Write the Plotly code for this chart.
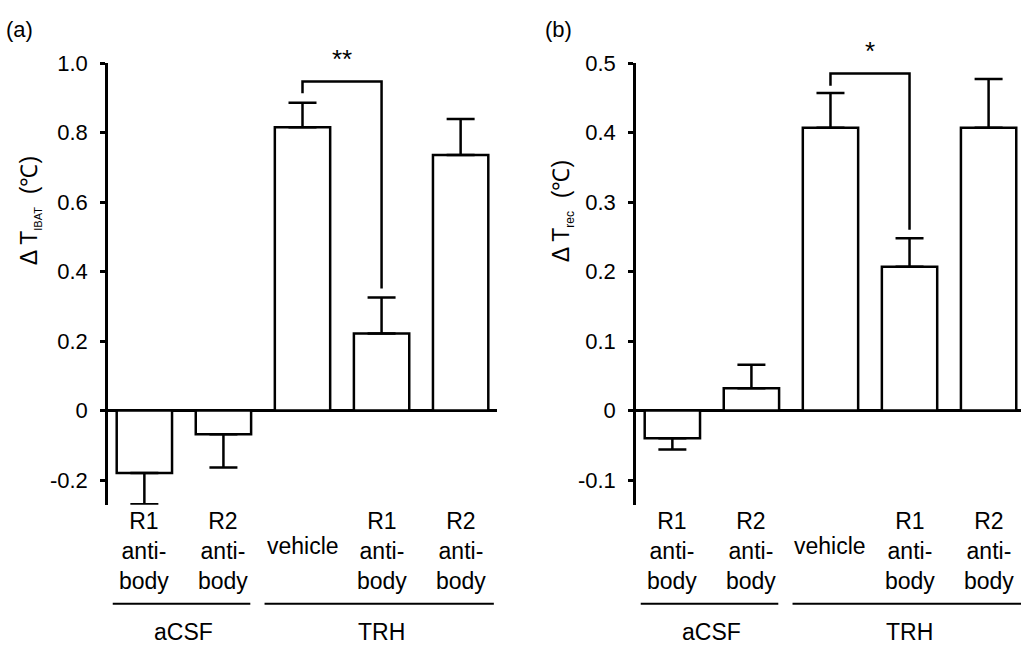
import plotly.graph_objects as go

# ---------------- data ----------------
cat_rows = ["R1<br>anti-<br>body", "R2<br>anti-<br>body", "vehicle", "R1<br>anti-<br>body", "R2<br>anti-<br>body"]
groups = ["aCSF", "TRH"]

# panel (a): delta T IBAT
a_mean = [-0.18, -0.068, 0.815, 0.222, 0.735]
a_sem = [0.09, 0.096, 0.071, 0.103, 0.104]
a_ticks = [-0.2, 0, 0.2, 0.4, 0.6, 0.8, 1.0]
a_ticktext = ["-0.2", "0", "0.2", "0.4", "0.6", "0.8", "1.0"]
a_yrange = [-0.271, 1.0]
a_bracket = [0.913, 0.947, 0.351]   # left end, top, right end
a_sig = "**"

# panel (b): delta T rec
b_mean = [-0.04, 0.032, 0.407, 0.207, 0.407]
b_sem = [0.016, 0.034, 0.050, 0.041, 0.070]
b_ticks = [-0.1, 0, 0.1, 0.2, 0.3, 0.4, 0.5]
b_ticktext = ["-0.1", "0", "0.1", "0.2", "0.3", "0.4", "0.5"]
b_yrange = [-0.1355, 0.5]
b_bracket = [0.4675, 0.485, 0.26]
b_sig = "*"

FONT = "Liberation Sans, Arial, Helvetica, sans-serif"
xs = list(range(len(cat_rows)))

fig = go.Figure()


def add_panel(mean, sem, xa, ya):
    plus = [s if m >= 0 else 0 for m, s in zip(mean, sem)]
    minus = [s if m < 0 else 0 for m, s in zip(mean, sem)]
    fig.add_trace(go.Bar(
        x=xs, y=mean, xaxis=xa, yaxis=ya, width=0.7,
        marker=dict(color="white", line=dict(color="black", width=2.5)),
        error_y=dict(type="data", symmetric=False, array=plus, arrayminus=minus,
                     color="black", thickness=2.5, width=14),
        cliponaxis=False, showlegend=False, hoverinfo="skip"))


add_panel(a_mean, a_sem, "x", "y")
add_panel(b_mean, b_sem, "x2", "y2")

ydom = [0.2229, 0.9195]
axis_common = dict(showgrid=False, zeroline=True, zerolinecolor="black", zerolinewidth=2.5,
                   showline=True, linecolor="black", linewidth=2.5,
                   ticks="outside", ticklen=5, tickwidth=2.5, tickcolor="black",
                   tickfont=dict(family=FONT, size=22, color="black"), ticklabelstandoff=8)
xcommon = dict(showgrid=False, zeroline=False, showline=False, showticklabels=False, ticks="")

fig.update_layout(
    width=1021, height=646, margin=dict(l=0, r=0, t=0, b=0),
    plot_bgcolor="white", paper_bgcolor="white",
    xaxis=dict(domain=[108 / 1021, 497 / 1021], range=[-0.46, 4.46], anchor="y", **xcommon),
    yaxis=dict(domain=ydom, range=a_yrange, tickvals=a_ticks, ticktext=a_ticktext, anchor="x", **axis_common),
    xaxis2=dict(domain=[636 / 1021, 1.0], range=[-0.46, 4.41], anchor="y2", **xcommon),
    yaxis2=dict(domain=ydom, range=b_yrange, tickvals=b_ticks, ticktext=b_ticktext, anchor="x2", **axis_common),
)

shapes = []
annotations = []
LBL = 23


def decorate(xref, yref, bracket, sig, ytitle, ylabel_x, letter, letter_x, line_right):
    # significance bracket
    l, top, r = bracket
    shapes.append(dict(type="path", xref=xref, yref=yref,
                       path=f"M 2,{l} L 2,{top} L 3,{top} L 3,{r}",
                       line=dict(color="black", width=2.5)))
    annotations.append(dict(x=2.5, y=top, xref=xref, yref=yref, text=sig, showarrow=False,
                            yanchor="bottom", yshift=5,
                            font=dict(family=FONT, size=26, color="black")))
    # category labels
    for i, t in enumerate(cat_rows):
        if "<br>" in t:
            annotations.append(dict(x=i, y=(646 - 503) / 646, xref=xref, yref="paper", text=t,
                                    showarrow=False, yanchor="top", align="center",
                                    font=dict(family=FONT, size=LBL, color="black")))
        else:
            annotations.append(dict(x=i, y=(646 - 544) / 646, xref=xref, yref="paper", text=t,
                                    showarrow=False, yanchor="middle",
                                    font=dict(family=FONT, size=LBL, color="black")))
    # group underlines and labels
    yl = (646 - 603) / 646
    shapes.append(dict(type="line", xref=xref, yref="paper", x0=-0.4, x1=1.34, y0=yl, y1=yl,
                       line=dict(color="black", width=2)))
    shapes.append(dict(type="line", xref=xref, yref="paper", x0=1.52, x1=line_right, y0=yl, y1=yl,
                       line=dict(color="black", width=2)))
    annotations.append(dict(x=0.5, y=(646 - 632) / 646, xref=xref, yref="paper", text=groups[0],
                            showarrow=False, yanchor="middle",
                            font=dict(family=FONT, size=LBL, color="black")))
    annotations.append(dict(x=3, y=(646 - 632) / 646, xref=xref, yref="paper", text=groups[1],
                            showarrow=False, yanchor="middle",
                            font=dict(family=FONT, size=LBL, color="black")))
    # y axis title
    annotations.append(dict(x=ylabel_x / 1021, y=(646 - 203) / 646, xref="paper", yref="paper",
                            text=ytitle, textangle=-90, showarrow=False,
                            xanchor="center", yanchor="middle",
                            font=dict(family=FONT, size=23, color="black")))
    # panel letter
    annotations.append(dict(x=letter_x / 1021, y=1 - 3 / 646, xref="paper", yref="paper",
                            text=letter, showarrow=False, xanchor="left", yanchor="top",
                            font=dict(family=FONT, size=22, color="black")))


decorate("x", "y", a_bracket, a_sig,
         "Δ T<sub><span style='font-size:11px'>IBAT</span></sub>  (℃)", 30, "(a)", 4, 4.42)
decorate("x2", "y2", b_bracket, b_sig,
         "Δ T<sub><span style='font-size:12px'>rec</span></sub>  (℃)", 562, "(b)", 543, 4.41)

fig.update_layout(shapes=shapes, annotations=annotations)
fig.write_html("out.html")
